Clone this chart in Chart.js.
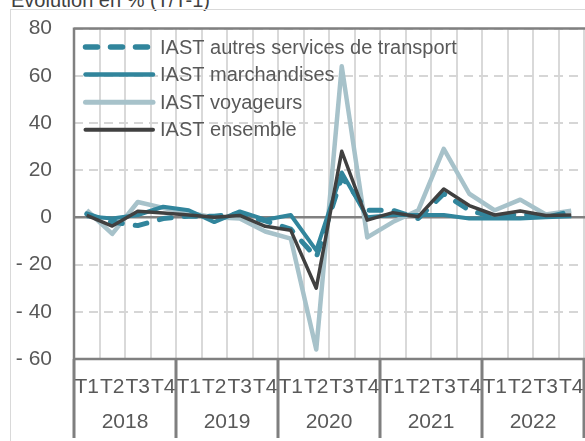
<!DOCTYPE html>
<html lang="fr">
<head>
<meta charset="UTF-8">
<title>IAST - évolution trimestrielle</title>
<script src="https://cdn.jsdelivr.net/npm/chart.js"></script>
<style>
  body { margin: 0; background: #fff; }
  #cadre { position: relative; width: 585px; height: 441px; overflow: hidden; }
  #titre { position: absolute; left: 11px; top: -11px; line-height: 20px; font: 20px "Liberation Sans", Arial, sans-serif; color: #404040; white-space: nowrap; }
  #graphique { position: absolute; left: 0; top: 0; }
</style>
</head>
<body>
<div id="cadre">
  <div id="titre">Évolution en % (T/T-1)</div>
  <canvas id="graphique" width="585" height="441"></canvas>
</div>
<script>
// Données (évolution T/T-1, en %)
const annees = ['2018', '2019', '2020', '2021', '2022'];
const trimestres = ['T1', 'T2', 'T3', 'T4'];
const autresServices = [1.5, -2, -3.5, -0.5, 0.5, 0.5, 1.5, -1.5, -5, -17, 17, 3, 3, -0.5, 10, 3, 0, 1.5, 0, 2.5];
const marchandises   = [0.5, -0.5, 1, 4.5, 3, -2, 2.5, -1, 1, -14, 19, 0, 1, 1, 1, -0.5, -0.5, -0.5, 0, 0.5];
const voyageurs      = [3, -7, 6.5, 4, 2, 0, -0.5, -6, -9, -56, 64, -8.5, -2, 3, 29, 10, 3, 7.5, 1.2, 2.8];
const ensemble       = [0.8, -3.7, 2.6, 1.8, 1, 0, 0.8, -3.8, -5.5, -30, 28, -1.2, 2, 0.3, 12, 5, 1, 2.7, 0.8, 1];

const labels = [];
annees.forEach(a => trimestres.forEach(t => labels.push(t)));

const police = '"Liberation Sans", Arial, sans-serif';
const gris = '#595959';

// cadre, quadrillage pointillé, ligne du zéro, années et légende
const cadre = {
  id: 'cadre',
  beforeDraw(chart) {
    const ctx = chart.ctx;
    ctx.save();
    ctx.strokeStyle = '#d9d9d9';
    ctx.lineWidth = 1;
    ctx.strokeRect(10.5, 9.5, 700, 600);
    ctx.restore();
  },
  beforeDatasetsDraw(chart) {
    const {ctx, chartArea: a, scales: {y}} = chart;
    ctx.save();
    ctx.strokeStyle = '#d6d6d6';
    ctx.lineWidth = 2;
    ctx.setLineDash([9, 6]);
    y.ticks.forEach(t => {
      const py = Math.round(y.getPixelForValue(t.value));
      ctx.beginPath();
      ctx.moveTo(a.left, py); ctx.lineTo(a.right, py);
      ctx.stroke();
    });
    ctx.setLineDash([]);
    const zero = y.getPixelForValue(0);
    ctx.strokeStyle = '#808080';
    ctx.lineWidth = 2.5;
    ctx.beginPath();
    ctx.moveTo(a.left, a.top); ctx.lineTo(a.right + 2, a.top);
    ctx.moveTo(a.left, zero); ctx.lineTo(a.right + 2, zero);
    ctx.moveTo(a.left, a.bottom); ctx.lineTo(a.right + 2, a.bottom);
    ctx.moveTo(a.left, a.top - 1); ctx.lineTo(a.left, a.bottom);
    ctx.stroke();
    ctx.restore();
  },
  afterDraw(chart) {
    const {ctx, chartArea: a, scales: {x}} = chart;
    const demi = (x.getPixelForValue(1) - x.getPixelForValue(0)) / 2;
    ctx.save();
    // séparateurs des années
    ctx.strokeStyle = '#7f7f7f';
    ctx.lineWidth = 3;
    ctx.beginPath();
    for (let k = 0; k <= annees.length; k++) {
      const px = k < annees.length ? x.getPixelForValue(k * 4) - demi : x.getPixelForValue(k * 4 - 1) + demi;
      ctx.moveTo(px, a.bottom); ctx.lineTo(px, 438);
    }
    ctx.stroke();
    // années
    ctx.fillStyle = gris;
    ctx.font = '21px ' + police;
    ctx.textAlign = 'center';
    ctx.textBaseline = 'middle';
    annees.forEach((an, k) => {
      const cx = (x.getPixelForValue(k * 4 + 1) + x.getPixelForValue(k * 4 + 2)) / 2;
      ctx.fillText(an, cx, 422);
    });
    // légende
    ctx.font = '20px ' + police;
    ctx.textAlign = 'left';
    chart.data.datasets.forEach((ds, i) => {
      const yy = 47 + i * 27.6;
      ctx.save();
      ctx.strokeStyle = ds.borderColor;
      ctx.lineWidth = ds.borderWidth + 0.5;
      ctx.lineCap = 'round';
      ctx.setLineDash(ds.borderDash || []);
      ctx.beginPath();
      ctx.moveTo(85.5, yy); ctx.lineTo(153, yy);
      ctx.stroke();
      ctx.restore();
      ctx.fillText(ds.label, 160, yy + 1);
    });
    ctx.restore();
  }
};

new Chart(document.getElementById('graphique'), {
  type: 'line',
  data: {
    labels: labels,
    datasets: [
      { label: 'IAST autres services de transport', data: autresServices, borderColor: '#31859c', borderWidth: 5, borderDash: [12, 13], borderCapStyle: 'round', order: 1 },
      { label: 'IAST marchandises', data: marchandises, borderColor: '#31859c', borderWidth: 4, order: 2 },
      { label: 'IAST voyageurs', data: voyageurs, borderColor: '#a7c2ca', borderWidth: 4.5, order: 3 },
      { label: 'IAST ensemble', data: ensemble, borderColor: '#404040', borderWidth: 3.5, order: 0 }
    ]
  },
  options: {
    responsive: false,
    animation: false,
    layout: { padding: { top: 28.5, right: 1, left: 0, bottom: 0 } },
    elements: {
      point: { radius: 0 },
      line: { tension: 0, borderJoinStyle: 'round', fill: false }
    },
    plugins: {
      legend: { display: false },
      tooltip: { enabled: false }
    },
    scales: {
      x: {
        offset: true,
        grid: { offset: true, color: '#d9d9d9', lineWidth: 2, drawTicks: false },
        border: { display: false },
        ticks: { color: gris, font: { family: police, size: 21 }, padding: 16, maxRotation: 0, autoSkip: false },
        afterFit: s => { s.height = 82; s.paddingLeft = 0; s.paddingRight = 0; }
      },
      y: {
        min: -60,
        max: 80,
        grid: { display: false, drawTicks: false },
        border: { display: false },
        ticks: {
          stepSize: 20,
          color: gris,
          padding: 22,
          font: { family: police, size: 21 },
          callback: v => v < 0 ? '- ' + Math.abs(v) : String(v)
        },
        afterFit: s => { s.width = 74; s.paddingTop = 0; s.paddingBottom = 0; }
      }
    }
  },
  plugins: [cadre]
});
</script>
</body>
</html>
